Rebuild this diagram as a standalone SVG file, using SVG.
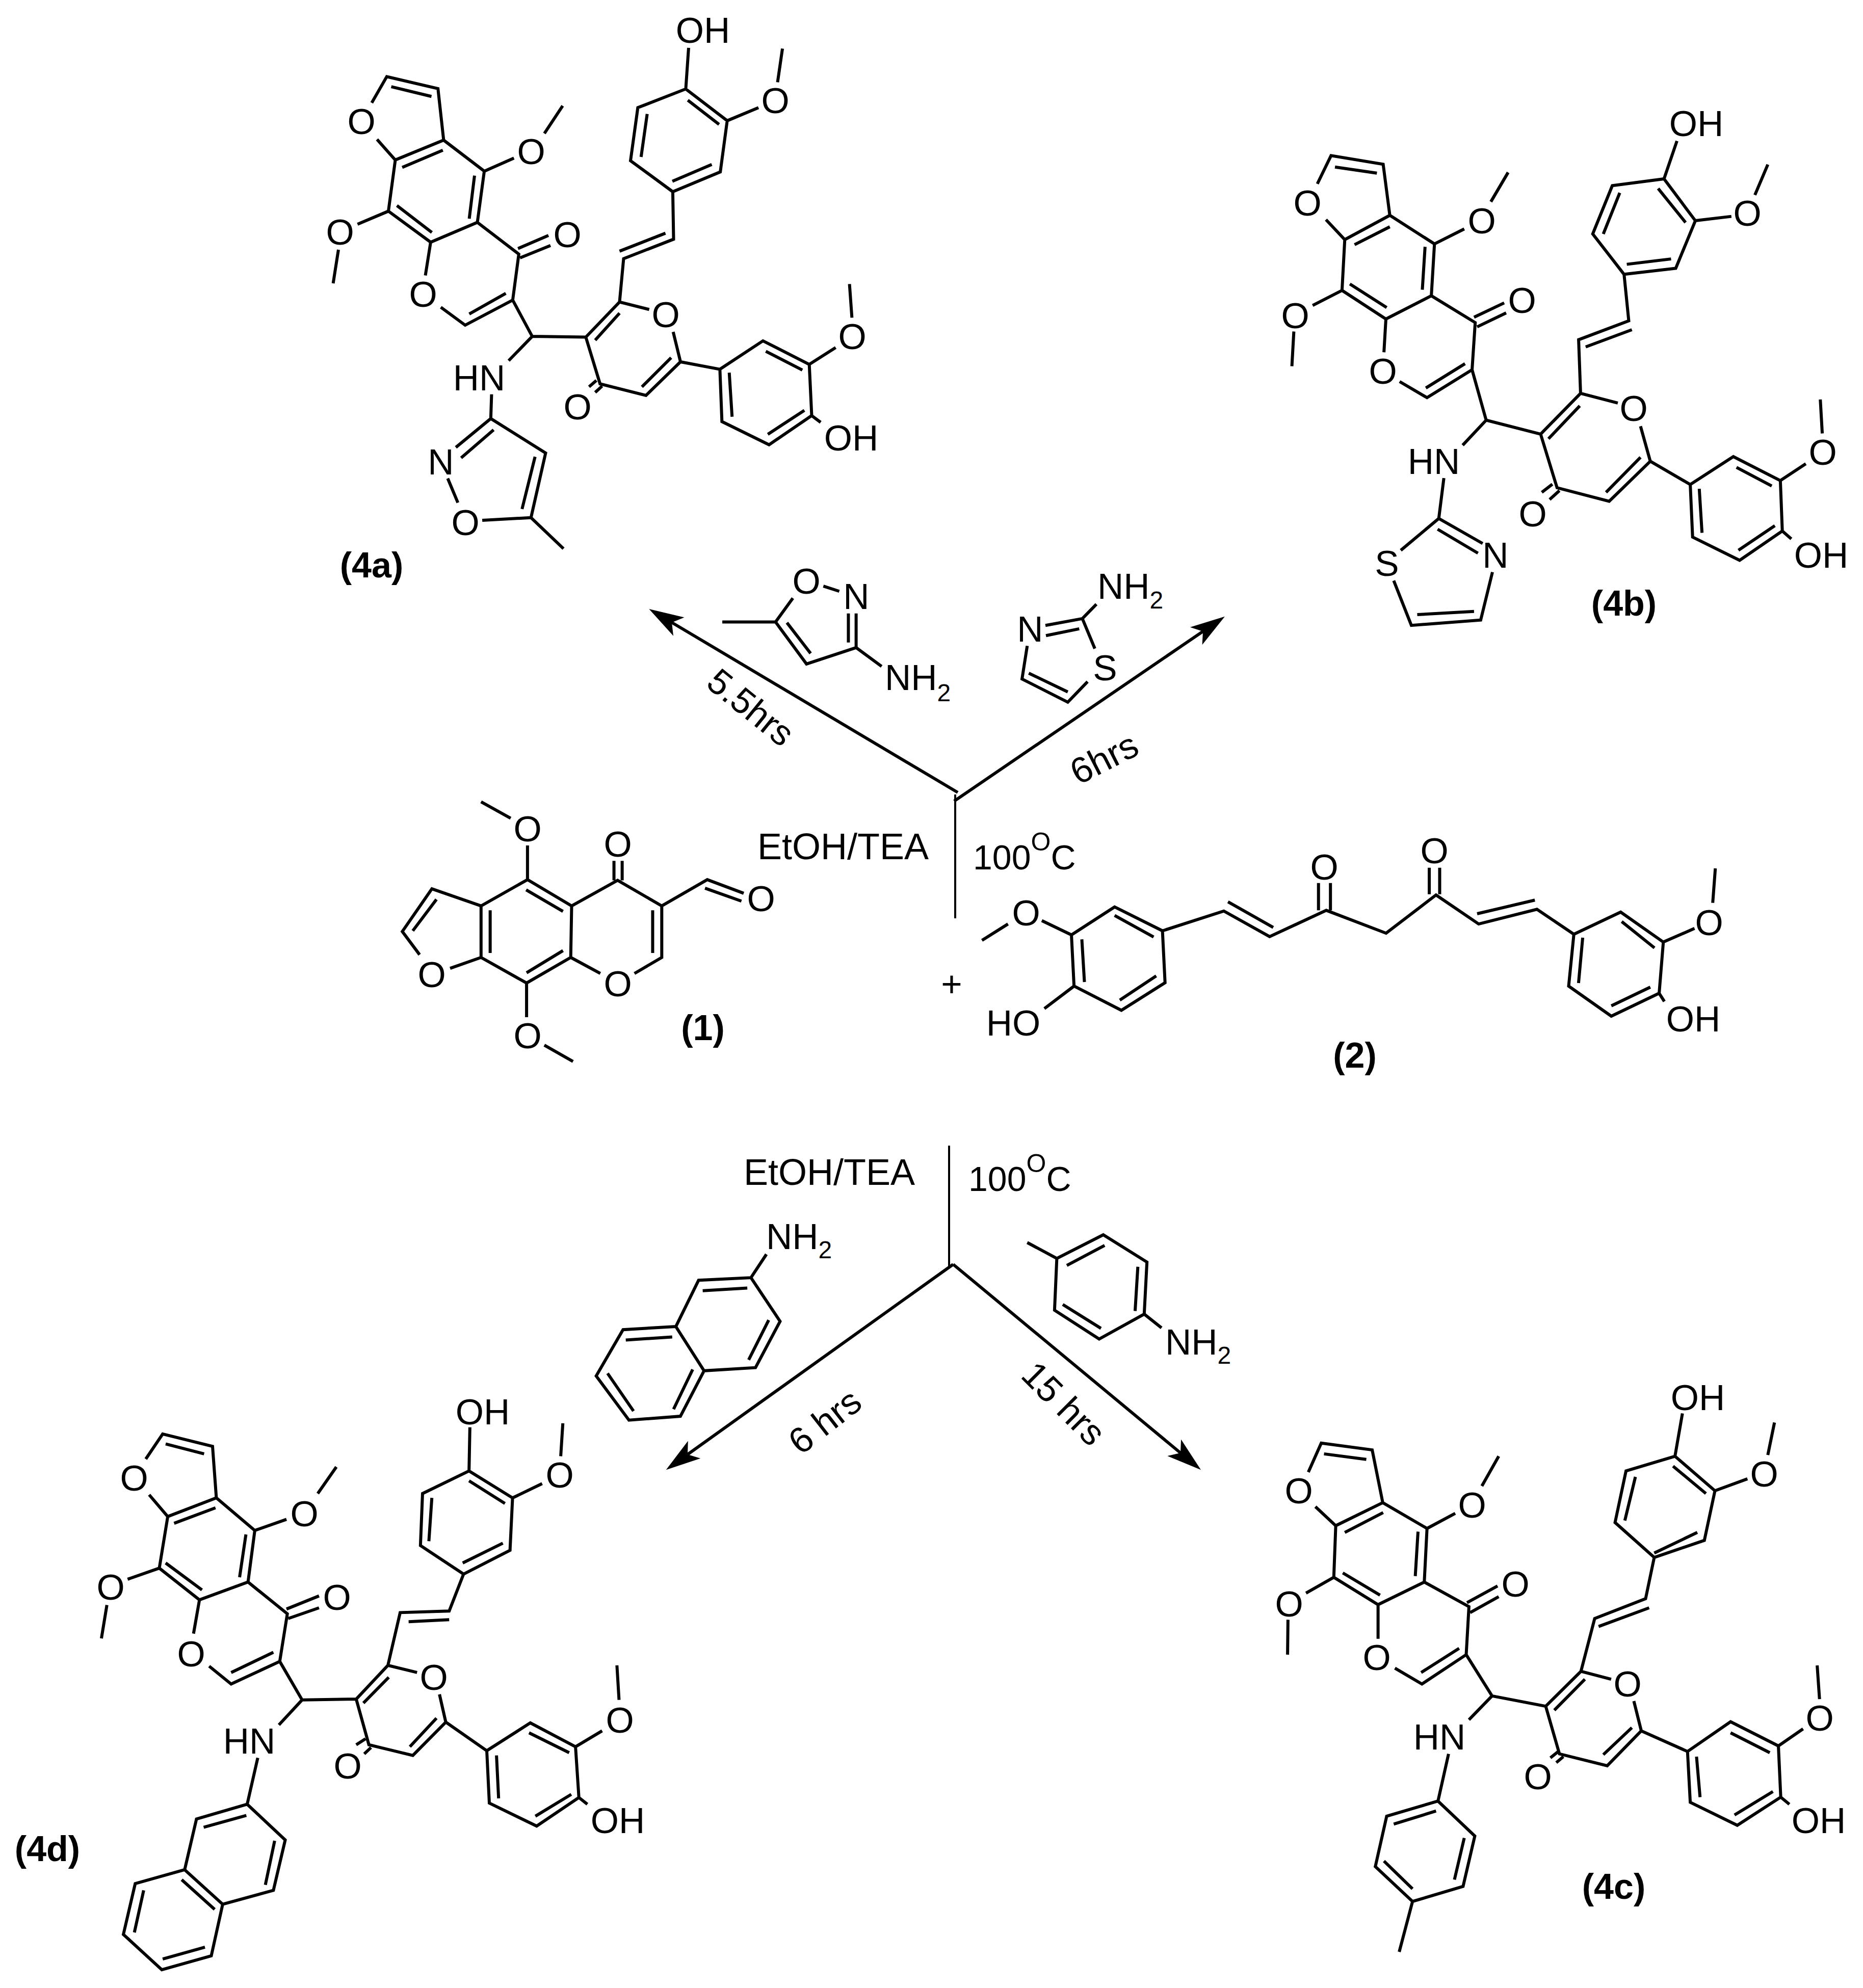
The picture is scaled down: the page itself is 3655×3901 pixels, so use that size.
<svg xmlns="http://www.w3.org/2000/svg" width="3655" height="3901" viewBox="0 0 3655 3901">
<style>
text{font-family:"Liberation Sans",Arial,sans-serif;font-size:71px;fill:#000}
.c{text-anchor:middle;dominant-baseline:central}
.b{font-weight:bold;font-size:70px}
.t{font-size:68px}
.bond{fill:none;stroke:#000;stroke-width:6;stroke-linejoin:miter;stroke-linecap:butt;vector-effect:non-scaling-stroke}
.rxn{fill:none;stroke:#000;stroke-width:6}
.sub{font-size:48px}
.sup{font-size:50px}
</style>
<defs>
<marker id="arrow" markerUnits="userSpaceOnUse" markerWidth="68" markerHeight="46" refX="16" refY="23" orient="auto"><path d="M68 23L0 2L16 23L0 44Z" fill="#000"/></marker>
</defs>
<rect width="3655" height="3901" fill="#fff"/>

<g id="connectors">
<path class="rxn" d="M1879 1555L1318 1221.5" marker-end="url(#arrow)"/>
<path class="rxn" d="M1872 1572L2360 1239" marker-end="url(#arrow)"/>
<path class="rxn" style="stroke-width:4" d="M1874 1559V1802"/>
<path class="rxn" style="stroke-width:4" d="M1862 2248V2486"/>
<path class="rxn" d="M1870 2481L1349 2854" marker-end="url(#arrow)"/>
<path class="rxn" d="M1870 2481L2316 2851" marker-end="url(#arrow)"/>
</g>

<g id="conditions">
<text class="c" style="font-size:72px" x="1654" y="1661">EtOH/TEA</text>
<text class="t" x="1909" y="1706">100<tspan class="sup" dy="-37">O</tspan><tspan dy="37">C</tspan></text>
<text class="c" x="1867" y="1930">+</text>
<text class="c" style="font-size:72px" x="1627" y="2300">EtOH/TEA</text>
<text class="t" x="1900" y="2337">100<tspan class="sup" dy="-37">O</tspan><tspan dy="37">C</tspan></text>
<text class="c" style="font-size:70px" transform="rotate(39 1473 1388)" x="1473" y="1388">5.5hrs</text>
<text class="c" transform="rotate(-27 2166 1488)" x="2166" y="1488">6hrs</text>
<text class="c" transform="rotate(-38 1618 2789)" x="1618" y="2789">6 hrs</text>
<text class="c" transform="rotate(45 2087 2754)" x="2087" y="2754">15 hrs</text>
</g>

<g id="reagent-isoxazole">
<path class="bond" transform="translate(700 1100) scale(.893 .6696)" d="M1025 75L1060 90M1080 155V240M1097 155V255L988 303L920 180L958 110M945 182L997 272M920 180H803M1097 255L1153 310"/>
<text class="c" x="1582" y="1140">O</text><text class="c" x="1680" y="1170">N</text>
<text x="1736" y="1354">NH<tspan class="sub" dy="22">2</tspan></text>
</g>

<g id="reagent-thiazole">
<path class="bond" transform="translate(1850 1100) scale(1.0204 .6696)" d="M295 128L268 170M197 190L268 170M198 220L262 200M268 170L292 258M278 355L240 415L152 347L162 250M165 330L240 385"/>
<text class="c" x="2021" y="1234">N</text><text class="c" x="2168" y="1310">S</text>
<text x="2153" y="1175">NH<tspan class="sub" dy="19">2</tspan></text>
</g>

<g id="reagent-naphthylamine">
<path class="bond" transform="translate(1100 2200) scale(.893 .5102)" d="M452 512L418 602L303 612L253 790L315 960L428 948L482 770L418 602M312 652L410 642M457 765L413 918M253 790L137 802L78 980L150 1150L263 1135L315 960M143 842L245 830M103 970L160 1115M290 955L248 1108"/>
<text x="1503" y="2451">NH<tspan class="sub" dy="18">2</tspan></text>
</g>

<g id="reagent-toluidine">
<path class="bond" transform="translate(1100 2200) scale(.893 .5102)" d="M1025 467L1090 528L1192 437L1288 542L1282 742L1183 838L1085 727L1090 528M1112 555L1195 478M1268 560L1262 730M1187 797L1103 705M1282 742L1320 795"/>
<text x="2286" y="2658">NH<tspan class="sub" dy="18">2</tspan></text>
</g>

<g id="compound-1">
<path class="bond" transform="translate(700 1100) scale(.893 .6696)" d="M338 755L273 707M375 835V935L472 1012L470 1163L373 1238L273 1163V1012L375 935M372 965L453 1028M453 1143L373 1208M293 1025V1150M273 1012L165 962L100 1087L138 1155M205 1195L273 1163M175 993L123 1085M472 1012L573 937L670 1012V1163L610 1210M535 1210L470 1163M650 1025V1150M565 880V937M583 880V937M670 1012L770 935L850 975M765 960L845 998M373 1238V1338M412 1420L475 1468"/>
<text class="c" x="1035" y="1626">O</text><text class="c" x="1212" y="1656">O</text><text class="c" x="1493" y="1763">O</text><text class="c" x="1212" y="1930">O</text><text class="c" x="847" y="1912">O</text><text class="c" x="1035" y="2032">O</text>
<text class="c b" x="1379" y="2017">(1)</text>
</g>

<g id="compound-2">
<path class="bond" transform="translate(1850 1100) scale(1.0204 .6696)" d="M125 1065L75 1113M190 1055L247 1097L330 1015L422 1085L427 1237L343 1318L252 1247L247 1097M330 1040L405 1103M410 1217L340 1288M267 1110L272 1235M252 1247L195 1313M422 1085L540 1027L628 1102L737 1025L852 1092L948 980L1030 1065L1142 1022L1213 1095M548 1000L635 1075M1027 1035L1138 995M722 945V1025M745 945V1025M935 900V978M955 900V978M1213 1095L1303 1030L1385 1118L1377 1268L1285 1335L1203 1247L1213 1095M1305 1058L1368 1135M1360 1250L1285 1305M1230 1105L1222 1238M1385 1118L1445 1078M1480 1003L1485 902M1377 1268L1387 1292"/>
<text class="c" x="2013" y="1791">O</text><text class="c" x="1988" y="2007">HO</text><text class="c" x="2598" y="1701">O</text><text class="c" x="2814" y="1669">O</text><text class="c" x="3353" y="1810">O</text><text class="c" x="3322" y="1999">OH</text>
<text class="c b" x="2658" y="2071">(2)</text>
</g>

<g id="compound-4a">
<path class="bond" transform="translate(550 0) scale(.797 .7334)" d="M225 275L262 205L388 237L402 375M273 232L372 258M238 373L283 428L402 375L502 458L485 595L370 648L266 565L283 428M300 448L400 402M478 470L465 585M287 550L373 622M502 458L575 423M650 357L695 283M266 565L190 600M143 668L130 758M370 648L357 737M395 822L455 870L572 803L587 680L485 595M465 840L555 785M585 665L660 630M590 690L665 657M572 803L620 900L752 902M620 900L562 965M520 1055L518 1120L653 1212L617 1385M518 1120L432 1197M525 1150L445 1225M627 1222L595 1362M617 1385L497 1392M412 1280L437 1345M617 1385L697 1468M752 902L835 808L908 828M967 888L985 968L900 1058L787 1027L752 902M775 910L835 838M890 1035L962 957M760 1035L778 1018M775 1050L792 1033M835 808L845 692L968 640L966 513M835 672L948 624M966 513L862 430L880 288L998 238L1100 323L1083 460L966 513M888 420L903 305M1003 268L1080 333M965 485L1062 440M998 238L1005 128M1100 323L1177 288M1224 220L1236 130M985 968L1082 988L1188 912L1302 975L1308 1112L1203 1190L1087 1128L1082 988M1105 997L1112 1115M1195 940L1285 990M1200 1162L1290 1098M1302 975L1367 930M1407 850L1401 760M1308 1112L1330 1130"/>
<text class="c" x="709" y="238">O</text><text class="c" x="1042" y="297">O</text><text class="c" x="667" y="455">O</text><text class="c" x="830" y="577">O</text><text class="c" x="1113" y="460">O</text><text class="c" x="1306" y="617">O</text><text class="c" x="1133" y="798">O</text><text class="c" x="1379" y="59">OH</text><text class="c" x="1521" y="197">O</text><text class="c" x="1672" y="660">O</text><text class="c" x="1670" y="859">OH</text><text class="c" x="940" y="741">HN</text><text class="c" x="865" y="906">N</text><text class="c" x="913" y="1025">O</text>
<text class="c b" x="729" y="1109">(4a)</text>
</g>

<g id="compound-4b">
<path class="bond" transform="translate(2450 170) scale(.7685 .7015)" d="M175 272L210 193L343 217L360 360M220 225L327 242M197 372L245 428L360 360L474 440L466 585L350 650L238 570L245 428M270 442L360 392M450 448L443 568M258 552L352 618M474 440L550 398M618 322L662 240M238 570L163 612M115 685L110 782M350 650L345 743M385 825L455 870L570 792L578 660L466 585M452 843L552 775M575 645L652 605M583 672L657 633M570 792L606 933L745 972M606 933L546 1003M498 1095L485 1208L388 1297M370 1382L415 1507L592 1492L622 1358M485 1208L597 1278M482 1238L585 1305M430 1477L575 1468M745 972L847 858L942 885M1000 950L1025 1048L920 1160L787 1122L745 972M765 985L845 893M912 1135L1000 1037M748 1135L775 1112M768 1155L793 1130M847 858L842 708L970 655L958 525M860 728L978 680M958 525L878 412L928 277L1060 258L1140 375L1090 508L958 525M905 412L947 297M1045 285L1115 380M965 497L1078 482M1060 258L1093 152M1140 375L1232 363M1292 303L1325 218M1025 1048L1127 1113L1237 1035L1357 1102L1362 1243L1253 1325L1133 1260L1127 1113M1150 1125L1157 1248M1245 1065L1335 1117M1250 1297L1343 1228M1357 1102L1422 1055M1464 970L1459 875M1362 1243L1385 1265"/>
<text class="c" x="2565" y="398">O</text><text class="c" x="2907" y="433">O</text><text class="c" x="2541" y="619">O</text><text class="c" x="2713" y="728">O</text><text class="c" x="2986" y="589">O</text><text class="c" x="3205" y="801">O</text><text class="c" x="3007" y="1008">O</text><text class="c" x="3328" y="242">OH</text><text class="c" x="3428" y="418">O</text><text class="c" x="3576" y="887">O</text><text class="c" x="3573" y="1089">OH</text><text class="c" x="2813" y="905">HN</text><text class="c" x="2721" y="1105">S</text><text class="c" x="2934" y="1089">N</text>
<text class="c b" x="3186" y="1184">(4b)</text>
</g>

<g id="compound-4c">
<path class="bond" transform="translate(2450 2680) scale(.7685 .7787)" d="M152 268L185 195L315 212L342 345M192 222L300 236M170 355L222 403L342 345L455 410L448 545L330 602L217 533L222 403M245 420L343 370M432 418L425 530M240 522L335 578M455 410L527 372M595 303L638 228M217 533L146 573M100 640L99 728M330 602V688M373 762L442 802L555 728L562 607L448 545M440 773L537 712M557 597L635 555M565 622L638 582M555 728L621 832L758 858M621 832L562 892M510 978L483 1097L352 1135L323 1262L418 1350L547 1312L577 1185L483 1097M370 1155L478 1122M550 1190L525 1295M345 1248L418 1318M418 1350L384 1477M758 858L848 770L925 790M983 845L1002 920L915 1008L793 978L758 858M780 868L858 790M905 980L978 912M770 988L790 972M785 1000L803 985M848 770L883 637L1013 587L1035 483M893 657L1022 610M1035 483L935 395L963 265L1088 228L1190 315L1163 440L1035 483M960 390L987 280M1083 253L1167 322M1035 472L1145 420M1088 228L1107 120M1190 315L1273 285M1325 225L1342 143M1002 920L1120 972L1230 897L1352 958L1358 1087L1247 1158L1127 1100L1120 972M1143 985L1152 1087M1230 925L1330 975M1240 1132L1338 1073M1352 958L1415 915M1457 840L1451 755M1358 1087L1380 1105"/>
<text class="c" x="2548" y="2925">O</text><text class="c" x="2888" y="2953">O</text><text class="c" x="2529" y="3147">O</text><text class="c" x="2701" y="3252">O</text><text class="c" x="2973" y="3108">O</text><text class="c" x="2824" y="3408">HN</text><text class="c" x="3193" y="3304">O</text><text class="c" x="3017" y="3486">O</text><text class="c" x="3331" y="2742">OH</text><text class="c" x="3461" y="2892">O</text><text class="c" x="3570" y="3371">O</text><text class="c" x="3568" y="3572">OH</text>
<text class="c b" x="3166" y="3702">(4c)</text>
</g>

<g id="compound-4d">
<path class="bond" transform="translate(0 2680) scale(.829 .7787)" d="M345 235L385 172L503 203L512 333M392 197L483 222M353 325L397 380L512 333L603 415L587 545L472 590L377 510L397 380M412 397L510 358M582 425L567 533M392 497L478 565M603 415L678 387M752 322L796 255M377 510L302 538M253 603L240 687M472 590L458 675M495 757L547 802L662 745L680 625L587 545M547 773L647 722M678 613L755 580M682 637L755 610M662 745L715 842L843 840M715 842L660 905M610 988L585 1105L465 1142L437 1270L527 1357L647 1322L675 1195L585 1105M482 1163L583 1133M650 1197L628 1308M430 1295L508 1370M437 1270L320 1305L292 1433L383 1522L500 1487L527 1357M340 1322L318 1428M385 1495L485 1465M843 840L918 755L987 773M1040 828L1055 898L977 982L873 955L843 840M860 850L920 785M970 960L1033 888M843 955L865 940M862 978L878 962M918 755L947 622L1063 618L1097 525M967 645L1063 640M1097 525L995 453L1000 322L1110 265L1213 333L1207 465L1097 525M1015 442L1022 333M1110 290L1195 347M1095 497L1190 447M1110 265L1112 155M1213 333L1283 297M1327 228L1332 145M1055 898L1152 970L1255 900L1362 960L1370 1088L1270 1160L1158 1102L1152 970M1175 982L1180 1090M1252 925L1347 975M1267 1135L1352 1080M1362 960L1425 920M1465 842L1460 755M1370 1088L1390 1105"/>
<text class="c" x="263" y="2900">O</text><text class="c" x="597" y="2970">O</text><text class="c" x="217" y="3114">O</text><text class="c" x="375" y="3245">O</text><text class="c" x="661" y="3134">O</text><text class="c" x="489" y="3416">HN</text><text class="c" x="851" y="3291">O</text><text class="c" x="682" y="3465">O</text><text class="c" x="947" y="2770">OH</text><text class="c" x="1098" y="2894">O</text><text class="c" x="1216" y="3375">O</text><text class="c" x="1212" y="3572">OH</text>
<text class="c b" x="93" y="3628">(4d)</text>
</g>
</svg>
